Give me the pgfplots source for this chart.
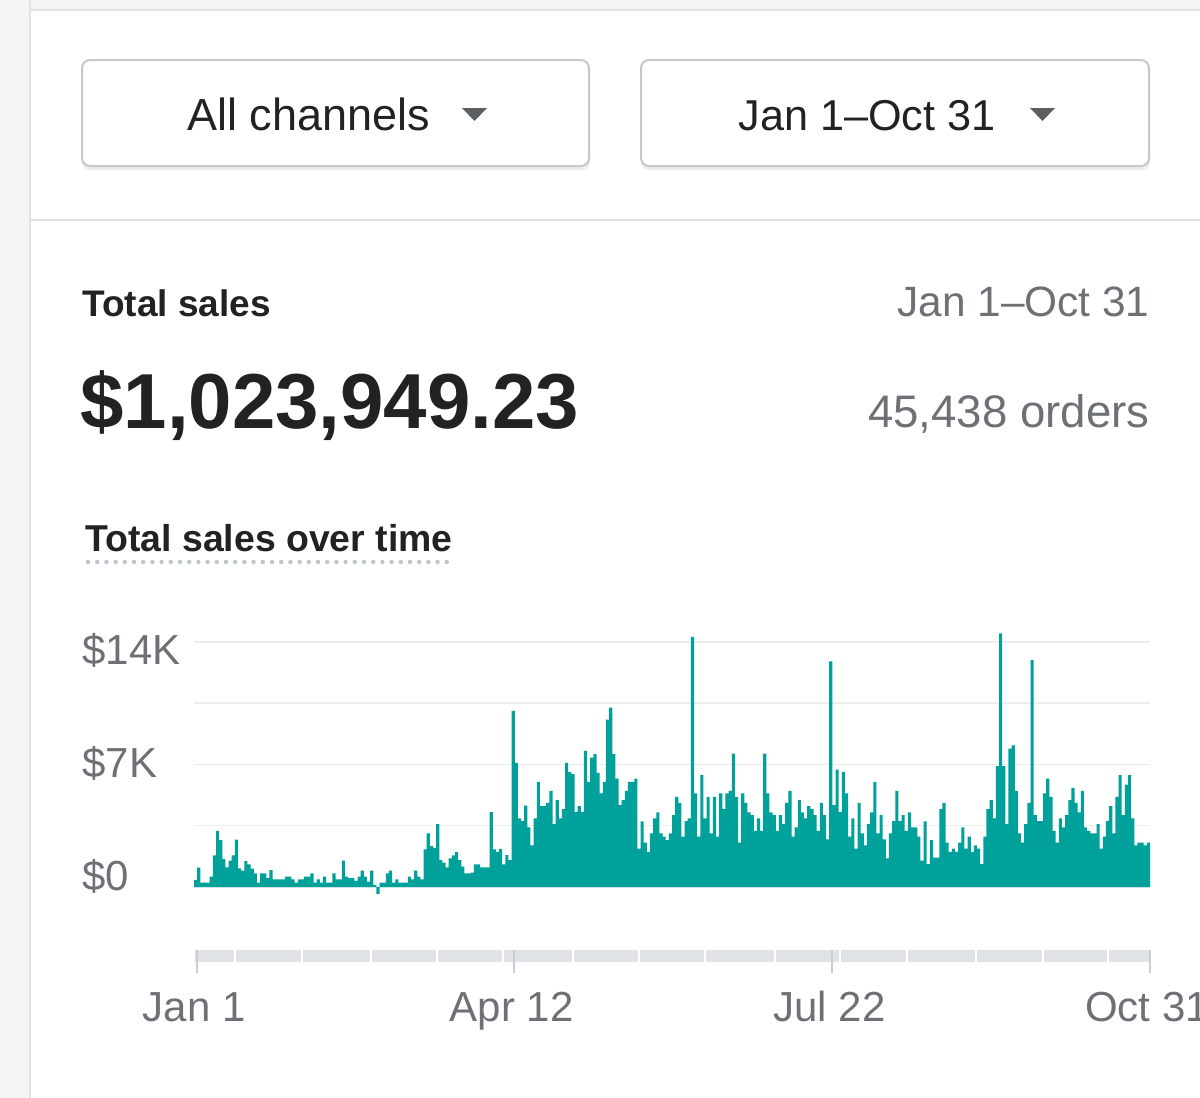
\documentclass[border=0pt]{standalone}
\usepackage{fontspec}
\setmainfont{Liberation Sans}
\usepackage{pgfplots}
\usepackage{pgfplotstable}
\pgfplotsset{compat=1.18}
\definecolor{ink}{HTML}{202223}
\definecolor{subdued}{HTML}{6D7175}
\definecolor{barteal}{HTML}{00A19B}
\definecolor{gridc}{HTML}{EBEDEF}
\definecolor{bandc}{HTML}{DFE3E8}
\definecolor{bandtick}{HTML}{C9CED4}
\definecolor{strip}{HTML}{F4F4F5}
\definecolor{stripline}{HTML}{E1E2E4}
\definecolor{btnborder}{HTML}{C4C9CE}
\definecolor{dotc}{HTML}{BCC4CE}
\definecolor{arrowc}{HTML}{5C5F62}
\newcommand{\fs}[1]{\fontsize{#1}{#1}\selectfont}

% daily total sales, day 0 = Jan 1 ... day 303 = Oct 31 (last row closes the step)
\pgfplotstableread{
d v
0 400
1 1100
2 250
3 250
4 250
5 590
6 1800
7 3200
8 2680
9 1600
10 1120
11 1500
12 1800
13 2700
14 1060
15 930
16 1480
17 1290
18 1045
19 780
20 250
21 780
22 780
23 500
24 970
25 440
26 440
27 440
28 440
29 590
30 590
31 440
32 250
33 440
34 440
35 590
36 590
37 780
38 250
39 440
40 250
41 590
42 250
43 250
44 780
45 440
46 440
47 1500
48 590
49 500
50 500
51 350
52 590
53 930
54 590
55 300
56 930
57 100
58 -400
59 250
60 250
61 780
62 930
63 250
64 440
65 250
66 250
67 250
68 590
69 440
70 930
71 590
72 440
73 2150
74 3060
75 2340
76 2240
77 3590
78 1540
79 1390
80 1120
81 1630
82 1800
83 2010
84 1540
85 1160
86 780
87 780
88 820
89 1290
90 1290
91 1120
92 1120
93 1120
94 4280
95 2150
96 2010
97 2180
98 1290
99 1820
100 1540
101 10050
102 7090
103 3910
104 3760
105 4640
106 3400
107 2375
108 3910
109 6000
110 4620
111 4620
112 4800
113 5490
114 3590
115 4960
116 3910
117 4450
118 7090
119 6570
120 6440
121 4290
122 4620
123 4290
124 7770
125 6000
126 7390
127 7580
128 6520
129 5340
130 6000
131 9560
132 10240
133 7580
134 6180
135 4670
136 4960
137 5490
138 6000
139 6000
140 6180
141 2185
142 3740
143 2530
144 2010
145 3060
146 3910
147 4260
148 3060
149 2870
150 2680
151 3060
152 4100
153 5150
154 4800
155 2870
156 3760
157 3910
158 14270
159 5340
160 2870
161 6380
162 3910
163 5150
164 3060
165 5150
166 2870
167 5340
168 4450
169 5340
170 5490
171 7620
172 5150
173 2530
174 5340
175 4800
176 4260
177 4100
178 3210
179 3910
180 3210
181 7620
182 5340
183 4260
184 4100
185 3210
186 4100
187 3590
188 4800
189 5490
190 2870
191 3400
192 4960
193 4260
194 3910
195 4620
196 4450
197 4100
198 3210
199 4800
200 4100
201 2720
202 12880
203 4670
204 6700
205 4290
206 6570
207 5340
208 2870
209 3910
210 2185
211 4800
212 3060
213 2375
214 3590
215 4260
216 6000
217 3060
218 4100
219 2720
220 1630
221 3060
222 3760
223 5490
224 3760
225 4100
226 3210
227 4260
228 3400
229 3400
230 2870
231 1500
232 3740
233 1310
234 2680
235 1670
236 1670
237 4450
238 4800
239 2530
240 2010
241 2185
242 2010
243 2530
244 3400
245 2185
246 2870
247 2010
248 2375
249 2185
250 1310
251 2870
252 4450
253 4960
254 3910
255 6900
256 14470
257 6900
258 3590
259 7900
260 8090
261 5490
262 3060
263 2530
264 3590
265 4800
266 12960
267 4100
268 3760
269 3760
270 5340
271 6180
272 5150
273 3210
274 2530
275 3910
276 3400
277 4100
278 4960
279 5660
280 4800
281 4260
282 5490
283 3400
284 3210
285 3060
286 3060
287 3590
288 2185
289 2870
290 3760
291 4620
292 3060
293 5150
294 6380
295 4100
296 5850
297 6380
298 3910
299 2375
300 2530
301 2530
302 2375
303 2530
304 2530
}\salesdata

\begin{document}
\begin{tikzpicture}[x=0.5pt,y=-0.5pt]
\clip (0,0) rectangle (1200,1098);
\fill[white] (0,0) rectangle (1200,1098);
% page chrome
\fill[strip] (0,0) rectangle (29,1098);
\draw[stripline, line width=1.2pt] (30,0) -- (30,1098);
\fill[strip] (31,0) rectangle (1200,9);
\draw[stripline, line width=1pt] (31,10) -- (1200,10);
\draw[stripline, line width=1pt] (31,219.5) -- (1200,219.5);
% buttons
\fill[black!7, rounded corners=4pt] (82,63) rectangle (590,170);
\draw[btnborder, fill=white, line width=1pt, rounded corners=4pt] (82,60) rectangle (589,166);
\fill[black!7, rounded corners=4pt] (641,63) rectangle (1150,170);
\draw[btnborder, fill=white, line width=1pt, rounded corners=4pt] (641,60) rectangle (1149,166);
\node[anchor=base west, inner sep=0pt, text=ink, font=\fs{22.5}] at (187,130) {All channels};
\fill[arrowc] (462,108) -- (487,108) -- (474.5,121) -- cycle;
\node[anchor=base west, inner sep=0pt, text=ink, font=\fs{21.6}] at (738,130) {Jan 1\textendash Oct 31};
\fill[arrowc] (1030,108) -- (1055,108) -- (1042.5,121) -- cycle;
% headline figures
\node[anchor=base west, inner sep=0pt, text=ink, font=\bfseries\fs{18.5}] at (82,316) {Total sales};
\node[anchor=base west, inner sep=0pt, text=ink, font=\bfseries\fs{39}] at (80,428) {\$1,023,949.23};
\node[anchor=base east, inner sep=0pt, text=subdued, font=\fs{21.2}] at (1150,316) {Jan 1\textendash Oct 31};
\node[anchor=base east, inner sep=0pt, text=subdued, font=\fs{22.8}] at (1150,427) {45,438 orders};
\node[anchor=base west, inner sep=0pt, text=ink, font=\bfseries\fs{18.7}] at (85,551) {Total sales over time};
\draw[dotc, line width=2.2pt, line cap=round, dash pattern=on 0pt off 4.6pt] (88,562) -- (455,562);
% timeline band
\fill[bandc] (195,950) rectangle (1151,962);
\foreach \s in {235,302,371,437,503,573,639,705,775,840,907,976,1043,1108}
  \draw[white, line width=1pt] (\s,949) -- (\s,963);
\foreach \t in {197,514,832,1150}
  \draw[bandtick, line width=1pt] (\t,950) -- (\t,973);
% chart
\begin{axis}[
  at={(97pt,-448.75pt)}, anchor=south west,
  scale only axis, width=478pt, height=134.9pt,
  xmin=0, xmax=304, ymin=-600, ymax=14800,
  scaled y ticks=false,
  axis line style={draw=none},
  major tick length=0pt,
  xtick={1,102,203,304},
  xticklabels={Jan 1,Apr 12,Jul 22,Oct 31},
  xticklabel style={anchor=base, inner sep=0pt, yshift=-61.75pt, xshift=-1.5pt, font=\fs{21}, text=subdued},
  ytick={0,7000,14000},
  yticklabels={\raisebox{-1.5pt}{\$0},\raisebox{-6.5pt}{\$7K},\raisebox{-11.5pt}{\$14K}},
  yticklabel style={anchor=base west, inner sep=0pt, xshift=-56pt, font=\fs{21}, text=subdued},
  extra y ticks={3500,10500}, extra y tick labels={},
  extra y tick style={grid=major},
  ymajorgrids, grid style={gridc, line width=0.8pt},
]
\addplot[const plot, fill=barteal, draw=none] table[x=d, y=v] {\salesdata} \closedcycle;
\end{axis}
\end{tikzpicture}
\end{document}
